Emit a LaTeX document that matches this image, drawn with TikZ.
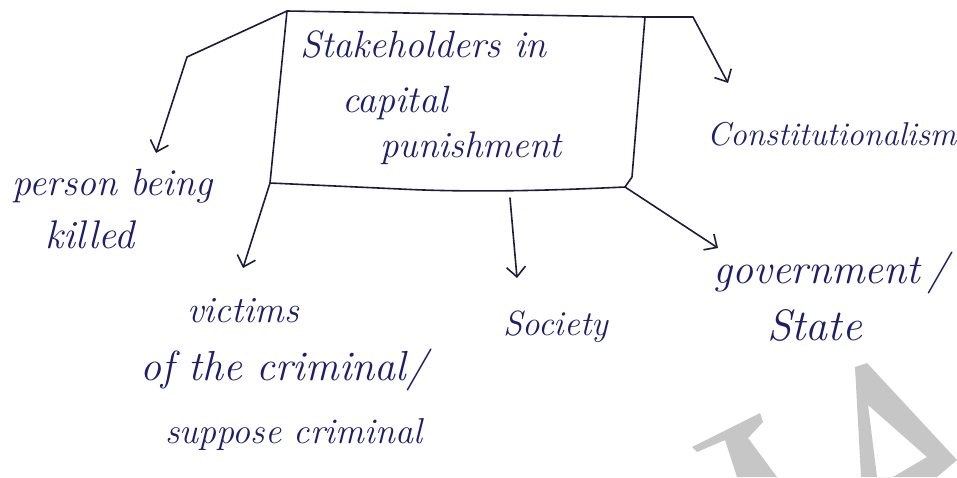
\documentclass[tikz,border=0pt]{standalone}
\usetikzlibrary{arrows.meta}
\definecolor{ink}{RGB}{28,28,58}
\definecolor{pen}{RGB}{30,30,105}
\definecolor{wmgrey}{RGB}{198,198,198}
\newcommand\hsz[1]{\fontsize{#1}{#1}\selectfont}
\tikzset{
  hand/.style={font=\itshape, text=pen, inner sep=0pt, anchor=base west},
  stroke/.style={draw=ink, line width=1.6pt, line cap=round, line join=round},
  arr/.style={stroke, -{Straight Barb[length=10pt,width=19pt,line width=1.6pt]}},
}
\begin{document}
\begin{tikzpicture}[x=1pt,y=-1pt]
\useasboundingbox (0,0) rectangle (957,477);
\fill[white] (0,0) rectangle (957,477);

% grey letters in the lower right corner
\fill[wmgrey] (692,447) -- (760,413) -- (763,422) -- (748,438) -- (777,477)
  -- (737,477) -- (725,440) -- (697,452) -- cycle;
\fill[wmgrey,even odd rule] (855,367) -- (867,363) -- (957,460) -- (937,477)
  -- (861,477) -- cycle
  (868,405) -- (927,457) -- (893,477) -- (877,477) -- cycle;

% central box
\coordinate (tl) at (287,11);
\coordinate (tr) at (645,17);
\coordinate (br) at (625,187);
\coordinate (bl) at (270,183);
\coordinate (bs) at (510,198);
\draw[stroke] (tl) -- (tr) -- (632,177) -- (br)
  .. controls (560,190) and (480,193) .. (400,189) -- (bl) -- cycle;

\node[hand] (t1) at (300,57) {\hsz{38}Stakeholders in};
\node[hand] (t2) at (342,112) {\hsz{38}capital};
\node[hand] (t3) at (380,157) {\hsz{37}punishment};

% stakeholder labels
\node[hand] (person) at (12,195) {\hsz{38}person being};
\node[hand] (killed) at (45,248) {\hsz{40}killed};
\node[hand] (consti) at (707,145) {\hsz{33}Constitutionalism};
\node[hand] (vic1) at (187,322) {\hsz{37}victims};
\node[hand] (vic2) at (140,380) {\hsz{42}of the criminal/};
\node[hand] (vic3) at (165,443) {\hsz{36}suppose criminal};
\node[hand] (society) at (503,335) {\hsz{35}Society};
\node[hand] (gov) at (713,283) {\hsz{42}government\,/};
\node[hand] (state) at (767,340) {\hsz{44}State};

% arrow tips
\coordinate (kp) at (187,57);
\coordinate (pt) at (156,153);
\coordinate (kc) at (693,17);
\coordinate (ct) at (728,83);
\coordinate (vt) at (243,268);
\coordinate (st) at (517,278);
\coordinate (gt) at (718,248);

% connectors
\draw[arr] (tl) -- (kp) -- (pt);
\draw[arr] (tr) -- (kc) -- (ct);
\draw[arr] (bl) -- (vt);
\draw[arr] (bs) -- (st);
\draw[arr] (br) -- (gt);
\end{tikzpicture}
\end{document}
